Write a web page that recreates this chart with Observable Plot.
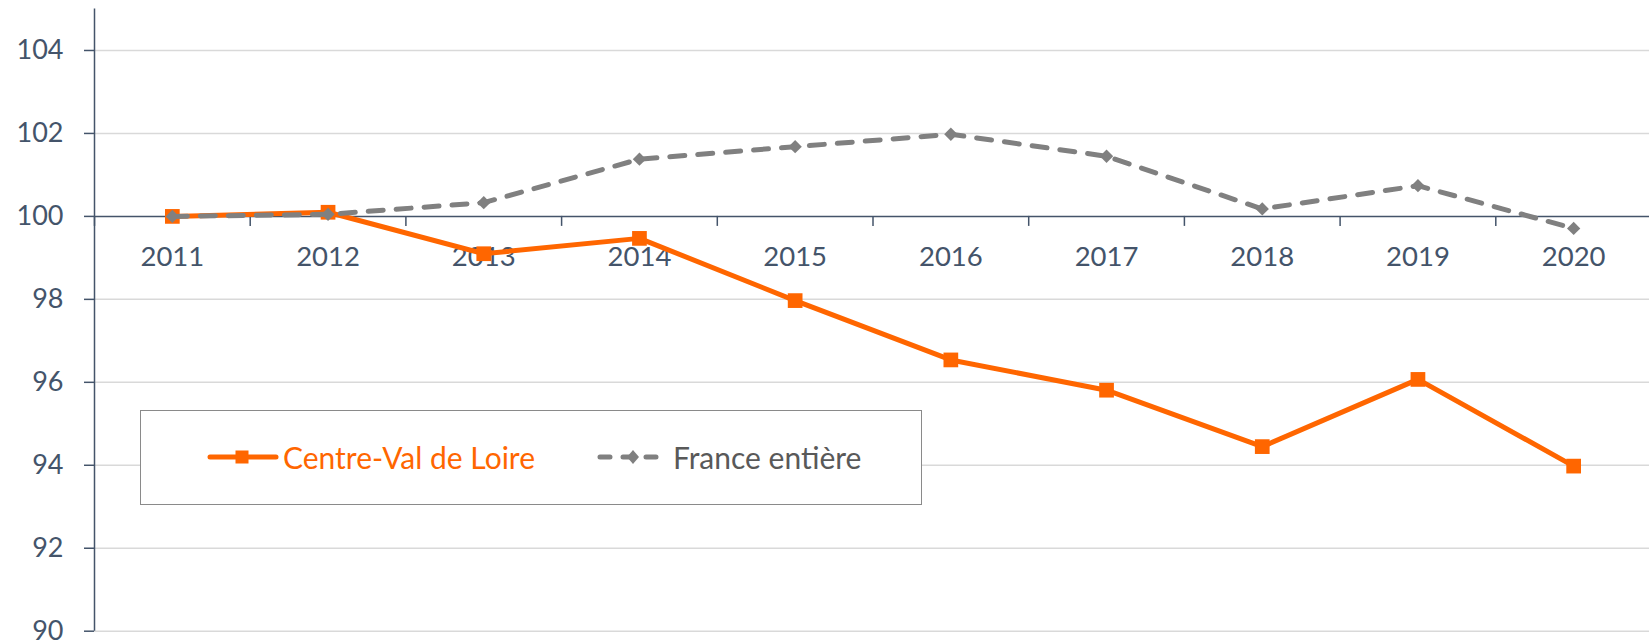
<!DOCTYPE html>
<html><head><meta charset="utf-8">
<script src="https://cdn.jsdelivr.net/npm/d3@7"></script>
<script src="https://cdn.jsdelivr.net/npm/@observablehq/plot@0.6"></script>
<style>
html,body{margin:0;padding:0;background:#fff;overflow:hidden}
#wrap{position:relative;width:1649px;height:642px}
#legend{position:absolute;left:140px;top:410px;width:782px;height:95px;box-sizing:border-box;border:1.5px solid #8a8a8a;background:#fff;font-family:Lato,"Open Sans",sans-serif;font-size:30px}
.item{position:absolute;top:0;height:92px;display:flex;align-items:center;white-space:nowrap}
.item svg{display:block;margin-right:4px}
</style></head>
<body><div id="wrap"><div id="chart"></div>
<div id="legend">
  <div class="item" style="left:66px;color:#ff6600"><svg width="72" height="20"><line x1="3" y1="10" x2="69" y2="10" stroke="#ff6600" stroke-width="5" stroke-linecap="round"/><rect x="28.5" y="3.5" width="13" height="13" fill="#ff6600"/></svg>Centre-Val de Loire</div>
  <div class="item" style="left:456px;color:#595959"><svg width="72" height="20"><line x1="3" y1="10" x2="69" y2="10" stroke="#808080" stroke-width="5" stroke-linecap="round" stroke-dasharray="10,13"/><path d="M36,3 L42,10 L36,17 L30,10 Z" fill="#808080"/></svg>France entière</div>
</div></div>
<script>
const years = [2011, 2012, 2013, 2014, 2015, 2016, 2017, 2018, 2019, 2020];
const centreVal = [100, 100.1, 99.1, 99.47, 97.97, 96.54, 95.81, 94.45, 96.07, 93.98];
const france = [100, 100.05, 100.33, 101.38, 101.68, 101.98, 101.45, 100.18, 100.74, 99.71];
const yTicks = [90, 92, 94, 96, 98, 100, 102, 104];
const seriesNames = ["Centre-Val de Loire", "France entière"];

const rowsC = years.map((y, i) => ({year: y, value: centreVal[i], series: seriesNames[0]}));
const rowsF = years.map((y, i) => ({year: y, value: france[i], series: seriesNames[1]}));
const bounds = years.map(y => y + 0.5).slice(0, -1).concat([years[0] - 0.5]);

const axisColor = "#44546a";
const font = "Lato, 'Open Sans', sans-serif";
const pxPerUnit = (630.7 - 8.5) / 15;

const chart = Plot.plot({
  width: 1649,
  height: 642,
  marginLeft: 94,
  marginRight: 0,
  marginTop: 8.5,
  marginBottom: 11.3,
  style: {fontFamily: font, background: "#fff", overflow: "visible"},
  x: {type: "linear", domain: [2010.5, 2020.5], range: [94, 1651], axis: null},
  y: {domain: [90, 105], range: [630.7, 8.5], axis: null},
  marks: [
    Plot.ruleY(yTicks.filter(d => d !== 100), {stroke: "#d9d9d9", strokeWidth: 1.5}),
    Plot.ruleY([100], {stroke: axisColor, strokeWidth: 1.5}),
    Plot.ruleX(bounds, {x: d => d, y1: 100, y2: 100 - 10 / pxPerUnit, stroke: axisColor, strokeWidth: 1.5}),
    Plot.ruleX([2010.5], {stroke: axisColor, strokeWidth: 1.5}),
    Plot.axisY({ticks: yTicks, label: null, tickSize: 10, tickPadding: 21, fontSize: 27, color: axisColor, tickFormat: d => String(d), strokeWidth: 1.5}),
    Plot.text(years, {x: d => d, y: 100, dy: 41, text: d => String(d), fontSize: 27.5, fill: axisColor}),
    Plot.line(rowsC, {x: "year", y: "value", stroke: "#ff6600", strokeWidth: 5, strokeLinejoin: "round"}),
    Plot.dot(rowsC, {x: "year", y: "value", symbol: "square", r: 8.3, fill: "#ff6600"}),
    Plot.line(rowsF, {x: "year", y: "value", stroke: "#808080", strokeWidth: 5, strokeDasharray: "15,13", strokeLinecap: "round"}),
    Plot.dot(rowsF, {x: "year", y: "value", symbol: "diamond2", r: 6, fill: "#808080"})
  ]
});
document.getElementById("chart").appendChild(chart);
</script>
</body></html>
